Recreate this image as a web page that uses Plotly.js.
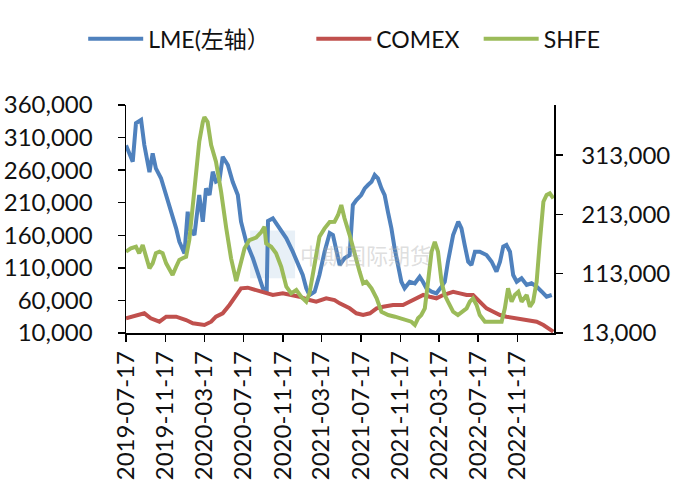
<!DOCTYPE html>
<html>
<head>
<meta charset="utf-8">
<script src="https://cdn.plot.ly/plotly-3.0.1.min.js"></script>
<style>html,body{margin:0;padding:0;background:#fff;}#chart{width:680px;height:500px;}</style>
</head>
<body>
<div id="chart"></div>
<script>
// ---- data ----
const lmeDates = ["2019-07-17","2019-08-07","2019-08-17","2019-09-02","2019-09-12","2019-09-28","2019-10-08","2019-10-18","2019-11-03","2019-11-19","2019-12-04","2019-12-20","2019-12-30","2020-01-15","2020-01-25","2020-01-30","2020-02-15","2020-03-01","2020-03-12","2020-03-22","2020-04-02","2020-04-12","2020-04-22","2020-05-03","2020-05-13","2020-05-29","2020-06-13","2020-06-29","2020-07-09","2020-07-25","2020-08-15","2020-09-04","2020-09-15","2020-09-27","2020-10-01","2020-10-16","2020-11-06","2020-11-27","2020-12-17","2021-01-02","2021-01-17","2021-01-28","2021-02-07","2021-02-23","2021-03-10","2021-03-26","2021-04-11","2021-04-21","2021-05-02","2021-05-12","2021-05-27","2021-06-12","2021-06-22","2021-07-03","2021-07-18","2021-07-29","2021-08-08","2021-08-19","2021-08-29","2021-09-08","2021-09-19","2021-09-29","2021-10-09","2021-10-20","2021-10-30","2021-11-10","2021-11-20","2021-11-30","2021-12-16","2022-01-01","2022-01-16","2022-01-26","2022-02-06","2022-02-22","2022-03-09","2022-03-25","2022-04-04","2022-04-14","2022-04-30","2022-05-16","2022-05-26","2022-06-05","2022-06-16","2022-06-26","2022-07-07","2022-07-22","2022-08-12","2022-08-28","2022-09-12","2022-09-23","2022-10-03","2022-10-13","2022-10-24","2022-11-03","2022-11-14","2022-11-29","2022-12-15","2022-12-30","2023-01-15","2023-01-31","2023-02-15","2023-03-03"];
const lmeValues = [298000,273000,332000,337000,298600,257000,285800,262800,247500,221800,201400,170700,150100,132300,196200,170700,160400,221800,180800,232100,221800,257600,242200,244900,280600,267900,242200,221800,180800,150100,124700,96400,78600,76000,182000,186000,170700,155400,134800,114400,99000,78600,68300,73400,99000,134800,163500,160400,134800,114400,124700,129700,206500,214200,221800,232100,237200,242200,252500,247500,232100,221800,196200,170700,140000,109300,88700,78600,88700,86300,96400,88700,78600,73400,70900,81100,88700,119400,160400,180800,170700,145100,119400,114400,134800,134800,129700,119400,104100,119400,142500,145100,134800,99000,88700,94000,83700,86300,81100,73400,65700,68300];

const comexDates = ["2019-07-17","2019-08-17","2019-09-12","2019-10-02","2019-10-29","2019-11-19","2019-12-20","2020-01-20","2020-02-10","2020-03-17","2020-04-07","2020-04-22","2020-05-13","2020-06-03","2020-06-24","2020-07-09","2020-07-30","2020-08-25","2020-09-15","2020-10-16","2020-11-16","2020-12-07","2021-01-07","2021-02-07","2021-02-28","2021-03-31","2021-04-26","2021-05-12","2021-06-12","2021-07-03","2021-07-24","2021-08-14","2021-09-04","2021-09-24","2021-10-25","2021-11-25","2021-12-16","2022-01-06","2022-01-27","2022-02-16","2022-03-09","2022-03-30","2022-04-30","2022-05-21","2022-06-11","2022-07-01","2022-07-22","2022-08-12","2022-09-02","2022-09-23","2022-10-13","2022-11-14","2022-12-15","2023-01-15","2023-02-05","2023-02-25","2023-03-08"];
const comexValues = [37800,43300,46200,37800,32100,40500,40500,34900,29400,26500,32100,40500,46200,60200,77100,88400,89400,85500,82600,77100,79900,78200,74200,68600,65800,71500,68600,63000,54600,46200,43300,46200,54600,57300,60200,60200,65800,71500,77100,74200,71500,77100,82600,79900,77100,77100,65800,54600,48900,43300,40500,37800,34900,32100,26500,18100,15200];

const shfeDates = ["2019-07-17","2019-08-01","2019-08-17","2019-08-27","2019-09-07","2019-09-17","2019-09-28","2019-10-08","2019-10-18","2019-10-29","2019-11-08","2019-11-19","2019-11-29","2019-12-09","2019-12-20","2019-12-30","2020-01-09","2020-01-20","2020-01-30","2020-02-10","2020-02-20","2020-03-01","2020-03-12","2020-03-17","2020-03-27","2020-04-07","2020-04-22","2020-05-08","2020-05-24","2020-06-08","2020-06-24","2020-07-09","2020-07-20","2020-08-04","2020-08-25","2020-09-10","2020-09-20","2020-09-25","2020-10-11","2020-10-26","2020-11-11","2020-11-27","2020-12-12","2020-12-28","2021-01-12","2021-01-28","2021-02-07","2021-02-18","2021-02-28","2021-03-10","2021-03-26","2021-04-11","2021-04-26","2021-05-07","2021-05-17","2021-05-27","2021-06-12","2021-06-28","2021-07-13","2021-07-24","2021-08-03","2021-08-19","2021-09-04","2021-09-19","2021-10-10","2021-10-31","2021-11-20","2021-12-06","2021-12-21","2022-01-01","2022-01-11","2022-01-21","2022-02-01","2022-02-11","2022-02-22","2022-03-04","2022-03-14","2022-03-25","2022-04-04","2022-04-14","2022-04-30","2022-05-15","2022-05-31","2022-06-11","2022-06-21","2022-07-01","2022-07-12","2022-07-22","2022-08-07","2022-08-22","2022-09-12","2022-09-28","2022-10-08","2022-10-18","2022-10-29","2022-11-08","2022-11-19","2022-11-29","2022-12-15","2022-12-25","2023-01-04","2023-01-15","2023-01-25","2023-02-05","2023-02-15","2023-02-25","2023-03-08"];
const shfeValues = [150100,155800,158500,147400,161400,141600,122100,130500,147400,150100,147400,130500,119200,110800,124800,136100,139000,141600,169800,228800,296200,335500,368700,377200,368700,330000,301800,251200,189500,138900,100700,133200,155800,169800,174000,183300,192200,164200,158500,147400,124800,91100,79900,85500,74200,65800,79900,113700,147400,175400,189500,200100,200600,212000,228800,206400,178200,144500,116400,96800,99500,88400,71500,48900,43300,40500,37800,34900,32100,26500,37800,43300,54600,99500,150100,166900,150100,99500,77100,65800,48900,43300,48900,54600,65800,71500,60200,43300,32100,32100,32100,32100,54600,88400,65800,77100,82600,65800,77100,57300,65800,99500,166900,234400,245700,248500,240100];

const xTickDates = ["2019-07-17","2019-11-17","2020-03-17","2020-07-17","2020-11-17","2021-03-17","2021-07-17","2021-11-17","2022-03-17","2022-07-17","2022-11-17"];
const xTickLabels = ["2019-07-17","2019-11-17","2020-03-17","2020-07-17","2020-11-17","2021-03-17","2021-07-17","2021-11-17","2022-03-17","2022-07-17","2022-11-17"];
const leftTicks = [10000,60000,110000,160000,210000,260000,310000,360000];
const rightTicks = [13000,113000,213000,313000];
const seriesNames = ["LME(左轴）","COMEX","SHFE"];

// ---- styling ----
const FONT = "Lato, 'Noto Sans CJK SC', sans-serif";
const fmt = v => v.toLocaleString("en-US");

const traces = [
  {x: lmeDates, y: lmeValues, name: seriesNames[0], type: "scatter", mode: "lines",
   line: {color: "#4F81BD", width: 4}, yaxis: "y", legend: "legend"},
  {x: comexDates, y: comexValues, name: seriesNames[1], type: "scatter", mode: "lines",
   line: {color: "#C0504D", width: 4}, yaxis: "y2", legend: "legend2"},
  {x: shfeDates, y: shfeValues, name: seriesNames[2], type: "scatter", mode: "lines",
   line: {color: "#9BBB59", width: 4}, yaxis: "y2", legend: "legend3"}
];

const axisCommon = {
  showline: true, linecolor: "#000", linewidth: 1.5,
  ticks: "outside", ticklen: 7, tickwidth: 1.5, tickcolor: "#000",
  showgrid: false, zeroline: false,
  tickfont: {family: FONT, size: 24, color: "#111"}
};

const legendCommon = {orientation: "h", y: 1.29, xanchor: "left", yanchor: "middle",
  font: {family: FONT, size: 23, color: "#111"}, itemwidth: 55, bgcolor: "rgba(0,0,0,0)"};

const layout = {
  width: 680, height: 500,
  margin: {l: 126, r: 126, t: 105, b: 167, pad: 0},
  paper_bgcolor: "#fff", plot_bgcolor: "#fff",
  showlegend: true,
  legend: Object.assign({}, legendCommon, {x: -0.1}),
  legend2: Object.assign({}, legendCommon, {x: 0.433}),
  legend3: Object.assign({}, legendCommon, {x: 0.824}),
  xaxis: Object.assign({}, axisCommon, {
    type: "date", range: ["2019-07-17", "2023-03-10"],
    tickmode: "array", tickvals: xTickDates, ticktext: xTickLabels, tickangle: -90
  }),
  yaxis: Object.assign({}, axisCommon, {
    range: [10000, 360000], tickmode: "array", tickvals: leftTicks,
    ticktext: leftTicks.map(fmt), ticklabelstandoff: 20
  }),
  yaxis2: Object.assign({}, axisCommon, {
    overlaying: "y", side: "right", range: [13000, 397500], tickmode: "array",
    tickvals: rightTicks, ticktext: rightTicks.map(fmt), ticklabelstandoff: 14
  }),
  annotations: [
    {text: "中期国际期货", xref: "paper", yref: "paper", x: 0.56, y: 0.34,
     showarrow: false, font: {family: FONT, size: 22, color: "rgba(170,170,170,0.4)"}}
  ],
  shapes: [
    {type: "rect", xref: "paper", yref: "paper", x0: 0.29, x1: 0.395, y0: 0.24, y1: 0.45,
     fillcolor: "rgba(180,205,230,0.3)", line: {width: 0}, layer: "below"}
  ]
};

Plotly.newPlot("chart", traces, layout, {displayModeBar: false, staticPlot: true});
</script>
</body>
</html>
